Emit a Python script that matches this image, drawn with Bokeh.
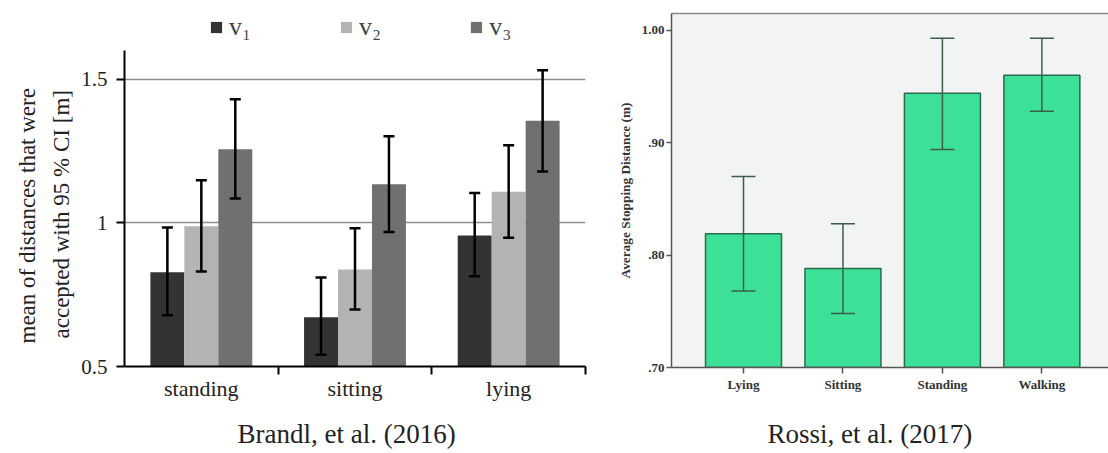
from bokeh.plotting import figure
from bokeh.layouts import row, column
from bokeh.models import (ColumnDataSource, FixedTicker, Range1d, Whisker, TeeHead,
                          Legend, LegendItem, LinearAxis, Title)
from bokeh.transform import dodge
from bokeh.embed import file_html
from bokeh.resources import INLINE

# ---------------- Brandl et al. (2016) ----------------
brandl_postures = ["standing", "sitting", "lying"]
v1_mean = [0.828, 0.671, 0.956]
v1_lo = [0.678, 0.541, 0.814]
v1_hi = [0.984, 0.810, 1.104]
v2_mean = [0.988, 0.838, 1.108]
v2_lo = [0.831, 0.698, 0.948]
v2_hi = [1.148, 0.981, 1.270]
v3_mean = [1.256, 1.134, 1.355]
v3_lo = [1.085, 0.968, 1.179]
v3_hi = [1.430, 1.301, 1.531]
series_labels = ["v\u2081", "v\u2082", "v\u2083"]
brandl_ticks = [0.5, 1.0, 1.5]
brandl_tick_labels = ["0.5", "1", "1.5"]
brandl_ylabel_lines = ["mean of distances that were", "accepted with 95 % CI [m]"]

# ---------------- Rossi et al. (2017) ----------------
rossi_postures = ["Lying", "Sitting", "Standing", "Walking"]
rossi_mean = [0.819, 0.788, 0.944, 0.960]
rossi_lo = [0.768, 0.748, 0.894, 0.928]
rossi_hi = [0.870, 0.828, 0.993, 0.993]
rossi_ticks = [0.70, 0.80, 0.90, 1.00]
rossi_tick_labels = [".70", ".80", ".90", "1.00"]

SERIF = "Liberation Serif"

# ======== left figure ========
# frame extends above the axis top so that the legend sits inside it
p1 = figure(width=610, height=453, x_range=Range1d(-0.5, 2.5), y_range=Range1d(0.5, 1.76),
            output_backend="svg", toolbar_location=None, title=None,
            min_border_left=124, min_border_right=25, min_border_top=4, min_border_bottom=87)
p1.outline_line_color = None
p1.xgrid.visible = False
p1.ygrid.ticker = FixedTicker(ticks=brandl_ticks[1:])
p1.ygrid.grid_line_color = "#8f8f8f"
p1.ygrid.grid_line_width = 1.5

src1 = ColumnDataSource(dict(
    x=list(range(len(brandl_postures))),
    v1=v1_mean, v1_lo=v1_lo, v1_hi=v1_hi,
    v2=v2_mean, v2_lo=v2_lo, v2_hi=v2_hi,
    v3=v3_mean, v3_lo=v3_lo, v3_hi=v3_hi,
))

colors = ["#333333", "#b3b3b3", "#707070"]
offsets = [-0.221, 0.0, 0.221]
items = []
for name, off, col, lab in zip(["v1", "v2", "v3"], offsets, colors, series_labels):
    r = p1.vbar(x=dodge("x", off, range=p1.x_range), top=name, bottom=0.5, width=0.221,
                fill_color=col, line_color=None, source=src1)
    items.append(LegendItem(label=lab, renderers=[r]))
    w = Whisker(source=src1, base=dodge("x", off, range=p1.x_range), upper=name + "_hi",
                lower=name + "_lo", line_color="black", line_width=2.5,
                upper_head=TeeHead(size=11, line_width=2.5, line_color="black"),
                lower_head=TeeHead(size=11, line_width=2.5, line_color="black"))
    w.level = "overlay"
    p1.add_layout(w)

legend = Legend(items=items, orientation="horizontal", location=(85, 324),
                spacing=88, glyph_width=14, glyph_height=14, label_standoff=6,
                label_text_font=SERIF, label_text_font_size="26px", label_height=14,
                border_line_color=None, background_fill_alpha=0, padding=0, margin=0)
p1.add_layout(legend)

ya = p1.left[0]
ya.ticker = FixedTicker(ticks=brandl_ticks, minor_ticks=[])
ya.bounds = (0.5, 1.6)
ya.major_label_overrides = {t: l for t, l in zip(brandl_ticks, brandl_tick_labels)}
ya.axis_line_width = 2
ya.axis_line_color = "black"
ya.major_tick_out = 8
ya.major_tick_in = 0
ya.major_tick_line_width = 2
ya.major_label_text_font = SERIF
ya.major_label_text_font_size = "21px"
ya.major_label_text_color = "#222222"
ya.major_label_standoff = 9

# two-line y label as left titles (inner line first)
for txt, so, off in [(brandl_ylabel_lines[1], 10, 28), (brandl_ylabel_lines[0], 4, 23)]:
    p1.add_layout(Title(text=txt, align="left", offset=off, standoff=so, text_font=SERIF,
                        text_font_size="23px", text_font_style="normal",
                        text_color="#222222"), "left")

xa = p1.below[0]
xa.ticker = FixedTicker(ticks=list(range(len(brandl_postures))), minor_ticks=[0.5, 1.5, 2.5])
xa.major_label_overrides = {i: c for i, c in enumerate(brandl_postures)}
xa.major_tick_out = 0
xa.major_tick_in = 0
xa.minor_tick_out = 8
xa.minor_tick_in = 0
xa.minor_tick_line_width = 2
xa.minor_tick_line_color = "black"
xa.axis_line_width = 2
xa.axis_line_color = "black"
xa.major_label_text_font = SERIF
xa.major_label_text_font_size = "22px"
xa.major_label_text_color = "#222222"
xa.major_label_standoff = 1

p1.add_layout(Title(text="Brandl, et al. (2016)", align="left", text_font=SERIF,
                    text_font_size="27px", text_font_style="normal", text_color="#222222",
                    offset=113, padding=dict(top=8, bottom=0, left=0, right=0)), "below")

# ======== right figure ========
p2 = figure(width=498, height=453, x_range=Range1d(-0.724, 3.67), y_range=Range1d(0.70, 1.015),
            output_backend="svg", toolbar_location=None, title=None,
            min_border_left=61, min_border_right=0, min_border_top=13, min_border_bottom=83)
p2.background_fill_color = "#f2f3f3"
p2.outline_line_color = None
p2.xgrid.visible = False
p2.ygrid.visible = False

src2 = ColumnDataSource(dict(x=list(range(len(rossi_postures))), mean=rossi_mean,
                             lo=rossi_lo, hi=rossi_hi))
p2.vbar(x="x", top="mean", bottom=0.70, width=0.764, fill_color="#3ce097",
        line_color="#2b6a4e", line_width=1.5, source=src2)
w2 = Whisker(source=src2, base="x", upper="hi", lower="lo", line_color="#3b5e4b", line_width=1.5,
             upper_head=TeeHead(size=24, line_width=1.5, line_color="#3b5e4b"),
             lower_head=TeeHead(size=24, line_width=1.5, line_color="#3b5e4b"))
w2.level = "overlay"
p2.add_layout(w2)

ya2 = p2.left[0]
ya2.ticker = FixedTicker(ticks=rossi_ticks, minor_ticks=[])
ya2.major_label_overrides = {t: l for t, l in zip(rossi_ticks, rossi_tick_labels)}
ya2.axis_line_color = "#555555"
ya2.axis_line_width = 1.5
ya2.major_tick_out = 5
ya2.major_tick_in = 0
ya2.major_tick_line_color = "#555555"
ya2.major_tick_line_width = 1.5
ya2.major_label_text_font = SERIF
ya2.major_label_text_font_style = "bold"
ya2.major_label_text_font_size = "13px"
ya2.major_label_text_color = "#333333"
ya2.major_label_standoff = 2
ya2.axis_label = "Average Stopping Distance (m)"
ya2.axis_label_text_font = SERIF
ya2.axis_label_text_font_style = "bold"
ya2.axis_label_text_font_size = "13.3px"
ya2.axis_label_text_color = "#333333"
ya2.axis_label_standoff = 6

xa2 = p2.below[0]
xa2.ticker = FixedTicker(ticks=list(range(len(rossi_postures))), minor_ticks=[])
xa2.major_label_overrides = {i: c for i, c in enumerate(rossi_postures)}
xa2.axis_line_color = "#555555"
xa2.axis_line_width = 1.5
xa2.major_tick_out = 6
xa2.major_tick_in = 0
xa2.major_tick_line_color = "#555555"
xa2.major_tick_line_width = 1.5
xa2.major_label_text_font = SERIF
xa2.major_label_text_font_style = "bold"
xa2.major_label_text_font_size = "13px"
xa2.major_label_text_color = "#333333"
xa2.major_label_standoff = 3

top_axis = LinearAxis(ticker=FixedTicker(ticks=[], minor_ticks=[]), major_tick_out=0, major_tick_in=0,
                      minor_tick_out=0, minor_tick_in=0, major_label_text_font_size="0px",
                      axis_line_color="#8a8a8a", axis_line_width=1.5)
p2.add_layout(top_axis, "above")

p2.add_layout(Title(text="Rossi, et al. (2017)", align="left", text_font=SERIF,
                    text_font_size="27px", text_font_style="normal", text_color="#222222",
                    offset=96, padding=dict(top=17, bottom=0, left=0, right=0)), "below")

layout = row(column(p1), column(p2))
open("out.html", "w").write(file_html(layout, INLINE))
